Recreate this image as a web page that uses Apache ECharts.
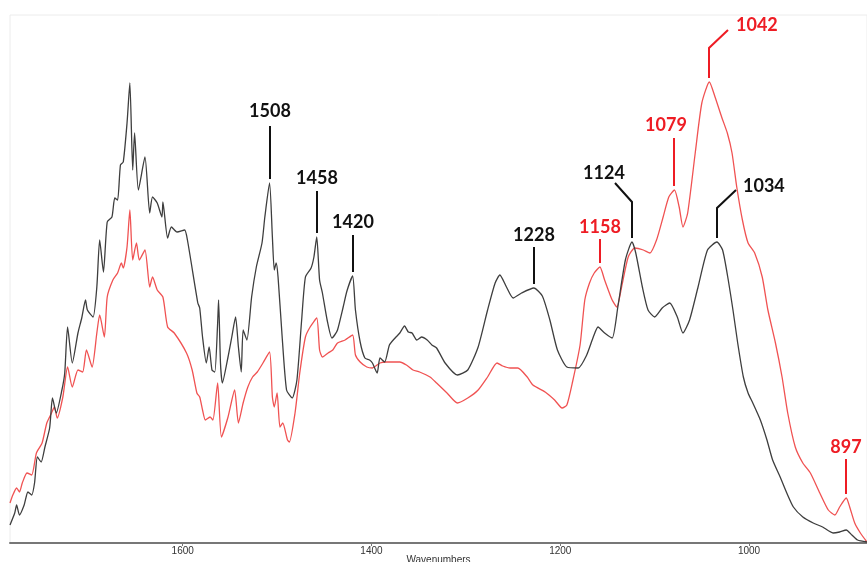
<!DOCTYPE html>
<html>
<head>
<meta charset="utf-8">
<script src="https://cdn.jsdelivr.net/npm/echarts@6/dist/echarts.min.js"></script>
<style>
  html, body { margin: 0; padding: 0; background: #ffffff; }
  #chart { width: 867px; height: 562px; }
</style>
</head>
<body>
<div id="chart"></div>
<script>
// FTIR spectra: wavenumber (cm-1) and absorbance for the two samples
const blackWn = [1783,1778,1776,1773,1768,1764,1760,1757,1754,1750,1746,1741,1738,1734,1728,1725,1722,1717,1711,1707,1703,1701,1695,1691,1688,1684,1680,1675,1672,1669,1666,1663,1659,1656,1653,1651,1647,1640,1635,1632,1627,1622,1621,1616,1612,1606,1598,1595,1584,1582,1579,1575,1572,1569,1566,1563,1562,1560,1558,1552,1548,1544,1541,1538,1536,1532,1527,1522,1516,1513,1508,1505,1503,1501,1499,1495,1490,1484,1479,1474,1470,1464,1461,1458,1455,1452,1447,1442,1439,1436,1430,1426,1420,1417,1412,1407,1402,1399,1394,1391,1386,1381,1375,1370,1365,1361,1357,1352,1347,1341,1336,1331,1322,1309,1298,1287,1277,1269,1264,1257,1250,1241,1228,1219,1211,1203,1193,1181,1172,1165,1160,1153,1145,1139,1131,1124,1120,1113,1107,1100,1092,1084,1076,1070,1063,1054,1044,1034,1028,1022,1017,1012,1006,1001,996,988,981,975,967,960,953,943,932,922,911,904,897,891,885,875];
const blackAbs = [0.018,0.030,0.038,0.028,0.038,0.051,0.048,0.060,0.086,0.081,0.096,0.115,0.145,0.130,0.153,0.170,0.216,0.180,0.210,0.225,0.243,0.233,0.226,0.256,0.303,0.271,0.321,0.326,0.345,0.343,0.378,0.381,0.420,0.460,0.373,0.410,0.353,0.386,0.330,0.346,0.340,0.326,0.341,0.305,0.316,0.311,0.313,0.303,0.240,0.235,0.206,0.180,0.196,0.173,0.171,0.220,0.243,0.180,0.160,0.186,0.206,0.226,0.196,0.171,0.213,0.203,0.246,0.276,0.300,0.326,0.360,0.306,0.273,0.280,0.266,0.211,0.153,0.145,0.163,0.223,0.266,0.275,0.286,0.306,0.263,0.250,0.223,0.205,0.208,0.213,0.236,0.252,0.267,0.233,0.201,0.185,0.183,0.180,0.170,0.185,0.181,0.198,0.205,0.210,0.217,0.211,0.210,0.203,0.206,0.203,0.198,0.195,0.180,0.168,0.173,0.196,0.233,0.260,0.268,0.256,0.245,0.250,0.255,0.247,0.223,0.193,0.176,0.175,0.188,0.206,0.216,0.210,0.205,0.236,0.283,0.301,0.290,0.256,0.233,0.226,0.235,0.240,0.226,0.210,0.223,0.256,0.293,0.301,0.293,0.263,0.233,0.200,0.166,0.150,0.140,0.123,0.103,0.083,0.066,0.050,0.036,0.026,0.020,0.016,0.010,0.011,0.013,0.008,0.003,0.001];

const redWn = [1783,1780,1776,1773,1770,1765,1760,1755,1749,1744,1739,1736,1733,1727,1722,1717,1711,1706,1702,1696,1691,1688,1683,1680,1674,1669,1665,1663,1659,1656,1653,1649,1646,1640,1635,1632,1627,1621,1616,1609,1596,1590,1585,1582,1579,1576,1571,1568,1563,1559,1552,1545,1541,1536,1531,1526,1521,1515,1508,1505,1503,1500,1497,1494,1489,1487,1481,1476,1470,1465,1458,1455,1452,1446,1441,1436,1428,1420,1417,1412,1405,1399,1391,1384,1377,1370,1363,1356,1349,1338,1331,1320,1309,1298,1287,1277,1267,1261,1253,1245,1235,1229,1216,1206,1198,1193,1187,1179,1174,1169,1164,1158,1153,1145,1140,1135,1128,1121,1112,1105,1098,1091,1085,1079,1074,1070,1065,1057,1050,1042,1036,1029,1023,1018,1013,1007,1001,994,986,980,972,965,959,951,943,935,925,916,909,904,897,893,888,882,875];
const redAbs = [0.040,0.048,0.055,0.051,0.060,0.070,0.068,0.090,0.100,0.120,0.130,0.136,0.125,0.146,0.176,0.156,0.173,0.171,0.193,0.176,0.210,0.228,0.206,0.246,0.263,0.270,0.280,0.275,0.296,0.333,0.283,0.300,0.283,0.293,0.256,0.266,0.253,0.246,0.216,0.210,0.190,0.173,0.150,0.146,0.133,0.123,0.126,0.123,0.160,0.106,0.126,0.153,0.120,0.140,0.156,0.166,0.171,0.180,0.191,0.146,0.136,0.150,0.116,0.120,0.103,0.101,0.130,0.170,0.206,0.216,0.225,0.193,0.186,0.190,0.193,0.200,0.203,0.208,0.188,0.181,0.176,0.175,0.180,0.181,0.181,0.181,0.178,0.173,0.171,0.166,0.160,0.150,0.140,0.145,0.153,0.166,0.180,0.177,0.175,0.175,0.166,0.158,0.151,0.143,0.135,0.138,0.161,0.198,0.243,0.260,0.270,0.276,0.263,0.243,0.236,0.256,0.286,0.295,0.293,0.290,0.303,0.326,0.346,0.353,0.336,0.316,0.330,0.390,0.440,0.461,0.446,0.426,0.410,0.390,0.356,0.323,0.300,0.290,0.266,0.233,0.200,0.166,0.130,0.096,0.080,0.070,0.050,0.033,0.028,0.036,0.045,0.035,0.020,0.010,0.001];

const xTickValues = [1000, 1200, 1400, 1600];
const blackPeaks = [1508, 1458, 1420, 1228, 1124, 1034];
const redPeaks = [1158, 1079, 1042, 897];

// leader-line geometry (px) for each peak label
const leaderLayout = {
  1508: { len: 53, text: [0, -15] },
  1458: { len: 42, text: [0, -13] },
  1420: { len: 37, text: [0, -13] },
  1228: { len: 37, text: [0, -12] },
  1124: { len: 36, elbow: [-17, -19], text: [-11, -10] },
  1034: { len: 30, elbow: [19, -18], text: [7, -4], align: 'left' },
  1158: { len: 24, text: [0, -12] },
  1079: { len: 48, text: [-8, -13] },
  1042: { len: 30, elbow: [19, -18], text: [8, -5], align: 'left' },
  897:  { len: 35, text: [0, -12] }
};

const BLACK_CURVE = '#3e3e3e';
const RED_CURVE = '#f05252';
const BLACK_TEXT = '#111111';
const RED_TEXT = '#ee1c24';
const AXIS_FONT = 'Liberation Sans';

function pairs(wn, ab) { return wn.map((w, i) => [w, ab[i]]); }

// absorbance of a spectrum at a wavenumber (linear between samples)
function absAt(wn, ab, w) {
  for (let i = 0; i < wn.length - 1; i++) {
    if (wn[i] >= w && w >= wn[i + 1]) {
      const t = (wn[i] - w) / (wn[i] - wn[i + 1]);
      return ab[i] + t * (ab[i + 1] - ab[i]);
    }
  }
  return 0;
}

function peakSeries(peaks, wn, ab, color) {
  return {
    type: 'custom',
    coordinateSystem: 'cartesian2d',
    silent: true,
    clip: false,
    z: 10,
    data: peaks.map(w => [w, absAt(wn, ab, w)]),
    encode: { x: 0, y: 1 },
    renderItem: function (params, api) {
      const w = api.value(0);
      const p = api.coord([w, api.value(1)]);
      const lay = leaderLayout[w];
      const x = Math.round(p[0]);
      const y0 = p[1] - 4;
      const y1 = y0 - lay.len;
      const pts = [[x, y0], [x, y1]];
      let end = [x, y1];
      if (lay.elbow) {
        end = [x + lay.elbow[0], y1 + lay.elbow[1]];
        pts.push(end);
      }
      return {
        type: 'group',
        children: [
          { type: 'polyline', shape: { points: pts },
            style: { stroke: color, lineWidth: 2, fill: null } },
          { type: 'text',
            style: { text: String(w), x: end[0] + lay.text[0], y: end[1] + lay.text[1],
                     fill: color, font: 'bold 18px Lato',
                     align: lay.align || 'center', verticalAlign: 'middle' } }
        ]
      };
    }
  };
}

const chart = echarts.init(document.getElementById('chart'), null, { renderer: 'canvas' });
chart.setOption({
  animation: false,
  backgroundColor: '#ffffff',
  grid: { left: 10, right: 0, top: 15, bottom: 19, outerBoundsMode: 'none', containLabel: false,
          show: true, borderColor: '#ececec', borderWidth: 1 },
  xAxis: {
    type: 'value',
    inverse: true,
    min: 875,
    max: 1783,
    name: 'Wavenumbers',
    nameLocation: 'middle',
    nameGap: 12,
    nameMoveOverlap: false,
    nameTextStyle: { fontFamily: AXIS_FONT, fontSize: 10, color: '#333' },
    axisLine: { lineStyle: { color: '#777', width: 2 } },
    axisTick: { customValues: xTickValues, length: 3, lineStyle: { color: '#777' } },
    axisLabel: { customValues: xTickValues, formatter: v => String(v),
                 fontFamily: AXIS_FONT, fontSize: 10, color: '#333', margin: 3 },
    splitLine: { show: false }
  },
  yAxis: { type: 'value', min: 0, max: 0.528, show: false },
  series: [
    { type: 'line', data: pairs(redWn, redAbs), symbol: 'none', smooth: 0.2,
      lineStyle: { color: RED_CURVE, width: 1.3 }, z: 3 },
    { type: 'line', data: pairs(blackWn, blackAbs), symbol: 'none', smooth: 0.2,
      lineStyle: { color: BLACK_CURVE, width: 1.3 }, z: 4 },
    peakSeries(blackPeaks, blackWn, blackAbs, BLACK_TEXT),
    peakSeries(redPeaks, redWn, redAbs, RED_TEXT)
  ]
});
</script>
</body>
</html>
